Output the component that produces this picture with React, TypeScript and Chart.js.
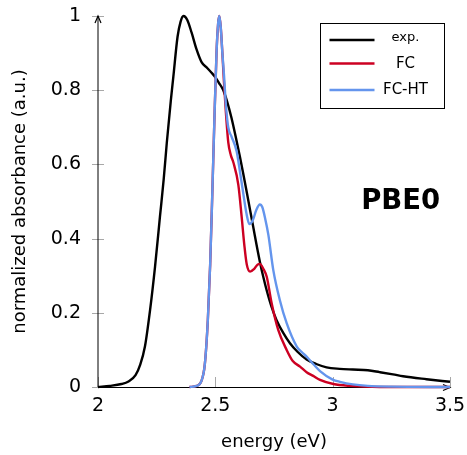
import { useEffect, useRef } from "react";
import { Chart, registerables } from "chart.js";

Chart.register(...registerables);

// ---- data ----
const expEnergy = [2.0, 2.05, 2.1, 2.13, 2.16, 2.18, 2.2, 2.222, 2.243, 2.264, 2.28, 2.293, 2.31, 2.321, 2.339, 2.352, 2.364, 2.38, 2.399, 2.42, 2.442, 2.465, 2.484, 2.5, 2.515, 2.534, 2.55, 2.569, 2.59, 2.605, 2.619, 2.634, 2.648, 2.662, 2.676, 2.69, 2.705, 2.719, 2.74, 2.761, 2.79, 2.818, 2.85, 2.889, 2.93, 2.974, 3.03, 3.086, 3.15, 3.2, 3.257, 3.3, 3.4, 3.5];
const expAbs = [0.0, 0.003, 0.008, 0.015, 0.032, 0.06, 0.109, 0.208, 0.324, 0.459, 0.56, 0.657, 0.77, 0.836, 0.944, 0.985, 1.0, 0.99, 0.955, 0.91, 0.875, 0.86, 0.847, 0.835, 0.82, 0.8, 0.77, 0.725, 0.665, 0.62, 0.575, 0.525, 0.477, 0.43, 0.382, 0.337, 0.295, 0.26, 0.215, 0.18, 0.145, 0.118, 0.095, 0.074, 0.062, 0.053, 0.049, 0.047, 0.045, 0.04, 0.034, 0.029, 0.021, 0.014];

const fcEnergy = [2.39, 2.42, 2.44, 2.455, 2.468, 2.478, 2.487, 2.496, 2.505, 2.512, 2.517, 2.523, 2.53, 2.537, 2.545, 2.555, 2.566, 2.577, 2.598, 2.612, 2.624, 2.634, 2.648, 2.665, 2.68, 2.69, 2.705, 2.719, 2.74, 2.768, 2.804, 2.83, 2.861, 2.889, 2.917, 2.946, 3.003, 3.074, 3.2, 3.5];
const fcAbs = [0.0, 0.003, 0.015, 0.06, 0.18, 0.33, 0.52, 0.72, 0.9, 0.98, 1.0, 0.97, 0.9, 0.82, 0.74, 0.66, 0.625, 0.605, 0.545, 0.46, 0.38, 0.33, 0.311, 0.318, 0.33, 0.332, 0.318, 0.297, 0.226, 0.154, 0.1, 0.07, 0.055, 0.04, 0.03, 0.019, 0.008, 0.003, 0.0, 0.0];

const htEnergy = [2.39, 2.42, 2.44, 2.455, 2.468, 2.478, 2.487, 2.496, 2.505, 2.512, 2.517, 2.523, 2.53, 2.537, 2.545, 2.555, 2.569, 2.591, 2.605, 2.619, 2.632, 2.645, 2.66, 2.675, 2.69, 2.7, 2.712, 2.726, 2.747, 2.775, 2.804, 2.847, 2.87, 2.889, 2.92, 2.946, 3.0, 3.031, 3.086, 3.15, 3.25, 3.5];
const htAbs = [0.0, 0.003, 0.015, 0.06, 0.18, 0.33, 0.52, 0.72, 0.9, 0.98, 1.0, 0.97, 0.9, 0.84, 0.76, 0.7, 0.675, 0.635, 0.58, 0.522, 0.47, 0.439, 0.45, 0.478, 0.492, 0.485, 0.455, 0.41, 0.315, 0.234, 0.172, 0.109, 0.093, 0.082, 0.06, 0.043, 0.02, 0.014, 0.007, 0.003, 0.001, 0.0];

const seriesLabels = ["exp.", "FC", "FC-HT"];
const seriesColors = ["#000000", "#cc0022", "#6495ed"];
const xTickValues = [2, 2.5, 3, 3.5];
const yTickValues = [0, 0.2, 0.4, 0.6, 0.8, 1];
const xTitle = "energy (eV)";
const yTitle = "normalized absorbance (a.u.)";
const annotationText = "PBE0";
const annotationAt = { x: 3.29, y: 0.48 };

const FONT = "'DejaVu Sans', sans-serif";

const toPoints = (xs: number[], ys: number[]) => xs.map((x, i) => ({ x, y: ys[i] }));

const axesPlugin = {
  id: "pgfAxes",
  beforeDatasetsDraw(chart: any) {
    const { ctx, chartArea, scales } = chart;
    const xs = scales.x;
    const ys = scales.y;
    ctx.save();
    ctx.strokeStyle = "#a8a8a8";
    ctx.lineWidth = 1;
    for (const v of yTickValues) {
      const py = Math.round(ys.getPixelForValue(v)) + 0.5;
      ctx.beginPath();
      ctx.moveTo(chartArea.left - 6, py);
      ctx.lineTo(chartArea.left + 6, py);
      ctx.stroke();
    }
    for (const v of xTickValues) {
      const px = Math.round(xs.getPixelForValue(v)) + 0.5;
      ctx.beginPath();
      ctx.moveTo(px, chartArea.bottom);
      ctx.lineTo(px, chartArea.bottom - 10);
      ctx.stroke();
    }
    ctx.strokeStyle = "#000";
    ctx.lineWidth = 1;
    const ax = chartArea.left;
    const ay = Math.round(chartArea.bottom) + 0.5;
    ctx.beginPath();
    ctx.moveTo(ax, chartArea.bottom);
    ctx.lineTo(ax, chartArea.top);
    ctx.stroke();
    ctx.beginPath();
    ctx.moveTo(chartArea.left, ay);
    ctx.lineTo(chartArea.right, ay);
    ctx.stroke();
    ctx.lineWidth = 1.2;
    ctx.beginPath();
    ctx.moveTo(ax - 3, chartArea.top + 7);
    ctx.lineTo(ax, chartArea.top);
    ctx.lineTo(ax + 3, chartArea.top + 7);
    ctx.stroke();
    ctx.beginPath();
    ctx.moveTo(chartArea.right - 7, ay - 3);
    ctx.lineTo(chartArea.right, ay);
    ctx.lineTo(chartArea.right - 7, ay + 3);
    ctx.stroke();
    ctx.restore();
  },
  afterDraw(chart: any) {
    const { ctx, chartArea, scales } = chart;
    ctx.save();
    const bx = Math.round(chartArea.right - 130) + 0.5;
    const by = Math.round(chartArea.top + 7) + 0.5;
    const bw = 124;
    const bh = 85;
    ctx.fillStyle = "#fff";
    ctx.fillRect(bx, by, bw, bh);
    ctx.strokeStyle = "#000";
    ctx.lineWidth = 1;
    ctx.strokeRect(bx, by, bw, bh);
    const lineYs = [16.5, 40, 66.5];
    const textYs = [17.5, 44, 70];
    const sizes = [13, 15, 15];
    chart.data.datasets.forEach((ds: any, i: number) => {
      const ly = by + lineYs[i];
      ctx.strokeStyle = ds.borderColor;
      ctx.lineWidth = 2.5;
      ctx.beginPath();
      ctx.moveTo(bx + 9, ly);
      ctx.lineTo(bx + 54, ly);
      ctx.stroke();
      ctx.fillStyle = "#000";
      ctx.font = `${sizes[i]}px ${FONT}`;
      ctx.textAlign = "center";
      ctx.textBaseline = "alphabetic";
      ctx.fillText(ds.label, bx + 85, by + textYs[i]);
    });
    ctx.fillStyle = "#000";
    ctx.font = `bold 27.5px ${FONT}`;
    ctx.textAlign = "center";
    ctx.textBaseline = "alphabetic";
    ctx.fillText(annotationText, scales.x.getPixelForValue(annotationAt.x), scales.y.getPixelForValue(annotationAt.y));
    ctx.restore();
  },
};

export default function App() {
  const ref = useRef<HTMLCanvasElement | null>(null);
  useEffect(() => {
    if (!ref.current) return;
    const datasets = [
      { label: seriesLabels[0], data: toPoints(expEnergy, expAbs), borderColor: seriesColors[0], order: 3 },
      { label: seriesLabels[1], data: toPoints(fcEnergy, fcAbs), borderColor: seriesColors[1], order: 2 },
      { label: seriesLabels[2], data: toPoints(htEnergy, htAbs), borderColor: seriesColors[2], order: 1 },
    ].map((d) => ({
      ...d,
      borderWidth: 2.4,
      pointRadius: 0,
      fill: false,
      cubicInterpolationMode: "monotone" as const,
      clip: false as any,
    }));
    const chart = new Chart(ref.current, {
      type: "line",
      data: { datasets },
      options: {
        animation: false,
        responsive: false,
        layout: { padding: { left: 0, right: 17, top: 16, bottom: 0 } },
        plugins: { legend: { display: false }, tooltip: { enabled: false } },
        scales: {
          x: {
            type: "linear",
            min: 2,
            max: 3.5,
            afterBuildTicks: (s: any) => {
              s.ticks = xTickValues.map((v) => ({ value: v }));
            },
            afterFit: (s: any) => {
              s.height = 68;
              s.paddingLeft = 0;
              s.paddingRight = 0;
            },
            grid: { display: false, drawTicks: false },
            border: { display: false },
            ticks: {
              padding: 8,
              color: "#000",
              font: { family: FONT, size: 19 },
              maxRotation: 0,
              callback: (v: any) => String(v),
            },
            title: {
              display: true,
              text: xTitle,
              color: "#000",
              font: { family: FONT, size: 18 },
              padding: { top: 0, bottom: 1.5 },
            },
          },
          y: {
            type: "linear",
            min: 0,
            max: 1,
            afterBuildTicks: (s: any) => {
              s.ticks = yTickValues.map((v) => ({ value: v }));
            },
            afterFit: (s: any) => {
              s.width = 98;
              s.paddingTop = 0;
              s.paddingBottom = 0;
            },
            grid: { display: false, drawTicks: false },
            border: { display: false },
            ticks: {
              padding: 17,
              color: "#000",
              font: { family: FONT, size: 19 },
              callback: (v: any) => String(v),
            },
            title: {
              display: true,
              text: yTitle,
              color: "#000",
              font: { family: FONT, size: 18 },
              padding: { top: 10, bottom: 0 },
            },
          },
        },
      },
      plugins: [axesPlugin],
    });
    return () => chart.destroy();
  }, []);
  return (
    <div style={{ position: "fixed", left: 0, top: 0, width: 467, height: 455, background: "#fff" }}>
      <canvas ref={ref} width={467} height={455} />
    </div>
  );
}
